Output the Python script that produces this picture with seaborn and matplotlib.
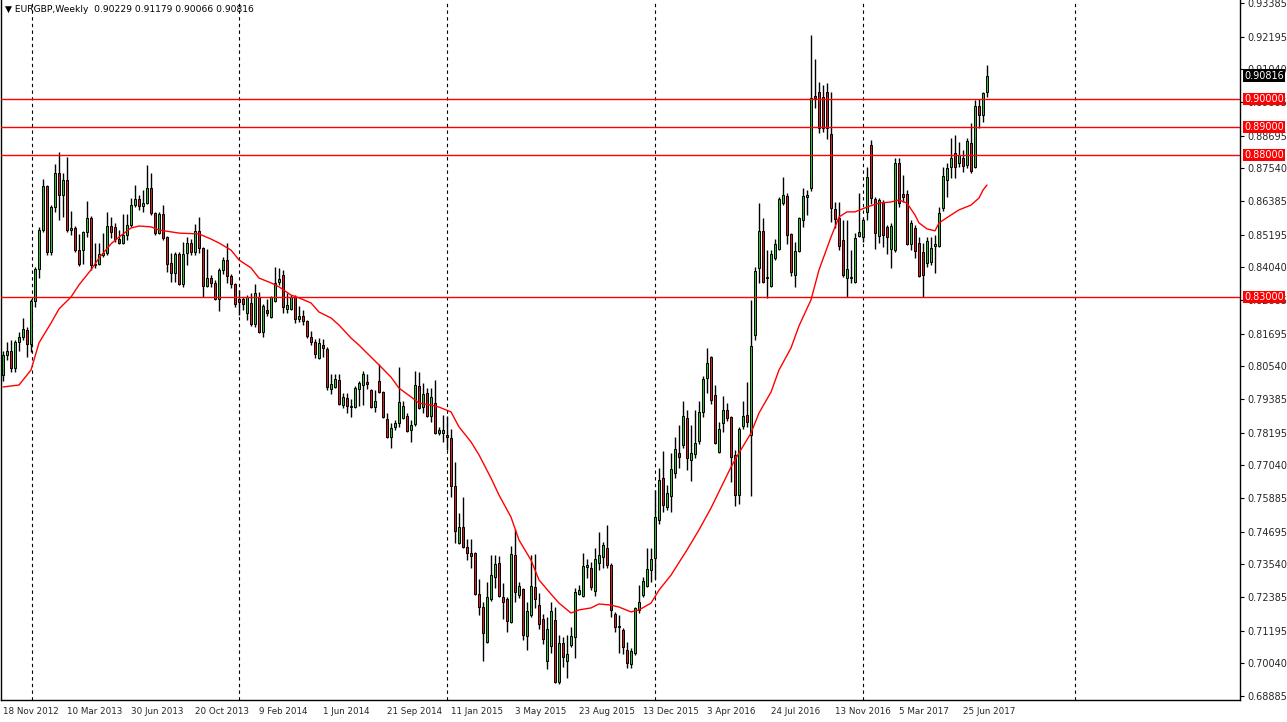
import numpy as np
import pandas as pd
import matplotlib
matplotlib.use("Agg")
import matplotlib.pyplot as plt
import seaborn as sns

# weekly EURGBP candles
opens = [
    .8023, .8094, .8108, .8048, .8140, .8158, .8183, .8133, .8285, .8398,
    .8536, .8691, .8458, .8617, .8737, .8660, .8713, .8536, .8543, .8465,
    .8465, .8529, .8578, .8412, .8416, .8448, .8455, .8550, .8547, .8504,
    .8490, .8518, .8554, .8624, .8646, .8621, .8631, .8684, .8596, .8525,
    .8593, .8511, .8420, .8384, .8451, .8345, .8455, .8490, .8458, .8532,
    .8472, .8338, .8366, .8349, .8292, .8395, .8430, .8373, .8345, .8292,
    .8292, .8243, .8278, .8204, .8299, .8175, .8253, .8228, .8285, .8352,
    .8377, .8257, .8257, .8299, .8221, .8232, .8214, .8158, .8140, .8084,
    .8129, .8115, .7974, .7981, .8006, .7917, .7942, .7914, .7910, .7974,
    .7988, .7999, .7970, .7910, .8002, .7963, .7868, .7804, .7840, .7854,
    .7871, .7878, .7829, .7850, .7985, .7910, .7960, .7878, .7924, .7818,
    .7818, .7811, .7801, .7631, .7430, .7486, .7415, .7394, .7394, .7249,
    .7203, .7080, .7232, .7309, .7359, .7239, .7232, .7150, .7387, .7246,
    .7267, .7101, .7175, .7274, .7210, .7161, .7012, .7065, .7157, .6938,
    .7076, .7012, .7069, .7097, .7249, .7242, .7345, .7341, .7260, .7359,
    .7380, .7412, .7352, .7178, .7136, .7122, .7051, .7002, .7041, .7193,
    .7246, .7278, .7334, .7377, .7511, .7659, .7557, .7596, .7677, .7748,
    .7776, .7871, .7723, .7744, .7790, .7893, .8013, .8087, .7953, .7751,
    .7854, .7900, .7875, .7741, .7599, .7843, .7882, .7811, .8165, .8402,
    .8532, .8366, .8338, .8437, .8469, .8631, .8656, .8522, .8377, .8462,
    .8571, .8653, .8684, .9010, .9024, .9006, .9024, .8875, .8610, .8578,
    .8501, .8366, .8370, .8352, .8515, .8511, .8600, .8836, .8646, .8515,
    .8635, .8547, .8469, .8465, .8773, .8663, .8663, .8486, .8543, .8490,
    .8458, .8419, .8423, .8479, .8479, .8614, .8713, .8759, .8808, .8773,
    .8790, .8766, .8843, .8759, .8974, .8942, .90229,
]
highs = [
    .8108, .8140, .8147, .8147, .8175, .8225, .8193, .8292, .8405, .8547,
    .8716, .8695, .8624, .8769, .8812, .8737, .8794, .8603, .8550, .8522,
    .8533, .8638, .8585, .8490, .8490, .8525, .8600, .8582, .8561, .8536,
    .8593, .8593, .8649, .8695, .8660, .8677, .8766, .8737, .8600, .8600,
    .8624, .8515, .8455, .8458, .8458, .8494, .8511, .8504, .8557, .8582,
    .8476, .8469, .8377, .8359, .8400, .8441, .8490, .8380, .8349, .8324,
    .8299, .8306, .8313, .8345, .8317, .8275, .8292, .8303, .8405, .8402,
    .8395, .8313, .8306, .8306, .8267, .8253, .8218, .8179, .8151, .8154,
    .8151, .8122, .8027, .8027, .8027, .7960, .7960, .7939, .7985, .8002,
    .8038, .8027, .7975, .7970, .8062, .7968, .7889, .7854, .7864, .8052,
    .7932, .7889, .7864, .8038, .8034, .7995, .7977, .7977, .8006, .7840,
    .7882, .7878, .7832, .7716, .7536, .7592, .7444, .7444, .7398, .7302,
    .7221, .7292, .7387, .7387, .7384, .7288, .7239, .7419, .7479, .7292,
    .7270, .7221, .7387, .7391, .7253, .7178, .7168, .7221, .7203, .7104,
    .7097, .7104, .7133, .7270, .7281, .7394, .7373, .7362, .7412, .7468,
    .7433, .7493, .7359, .7186, .7175, .7129, .7080, .7058, .7205, .7281,
    .7309, .7412, .7412, .7617, .7695, .7755, .7635, .7748, .7804, .7847,
    .7931, .7900, .7847, .7900, .7931, .8020, .8119, .8091, .7988, .7857,
    .7949, .7924, .7880, .7758, .7840, .7931, .7999, .8289, .8405, .8631,
    .8578, .8465, .8465, .8504, .8653, .8723, .8667, .8525, .8494, .8582,
    .8684, .8677, .9225, .9140, .9059, .9049, .9056, .9024, .8635, .8635,
    .8571, .8571, .8465, .8525, .8667, .8578, .8759, .8854, .8653, .8649,
    .8642, .8554, .8561, .8790, .8790, .8730, .8677, .8571, .8554, .8511,
    .8490, .8511, .8511, .8518, .8617, .8759, .8773, .8861, .8872, .8847,
    .8819, .8861, .8914, .8996, .8999, .9024, .91179,
]
lows = [
    .8002, .8076, .8034, .8034, .8108, .8147, .8087, .8105, .8264, .8366,
    .8529, .8448, .8448, .8600, .8571, .8581, .8529, .8518, .8458, .8409,
    .8416, .8511, .8395, .8402, .8412, .8441, .8448, .8508, .8494, .8486,
    .8486, .8501, .8547, .8617, .8607, .8600, .8628, .8589, .8520, .8522,
    .8501, .8388, .8352, .8352, .8342, .8335, .8412, .8448, .8448, .8455,
    .8299, .8335, .8335, .8289, .8250, .8380, .8349, .8331, .8264, .8235,
    .8253, .8218, .8197, .8193, .8172, .8158, .8232, .8225, .8280, .8342,
    .8243, .8243, .8253, .8207, .8211, .8200, .8154, .8130, .8084, .8080,
    .8087, .7970, .7956, .7977, .7917, .7907, .7889, .7875, .7907, .7914,
    .7917, .7974, .7905, .7893, .7960, .7870, .7800, .7765, .7829, .7840,
    .7868, .7822, .7787, .7843, .7903, .7889, .7875, .7857, .7815, .7811,
    .7787, .7758, .7592, .7430, .7426, .7412, .7369, .7341, .7246, .7175,
    .7012, .7076, .7224, .7270, .7239, .7161, .7115, .7147, .7221, .7235,
    .7087, .7051, .7168, .7200, .7125, .7072, .6984, .7041, .6935, .6931,
    .6991, .6952, .7062, .7023, .7246, .7239, .7306, .7263, .7242, .7334,
    .7341, .7341, .7168, .7115, .7041, .7037, .6988, .6988, .7034, .7182,
    .7239, .7274, .7292, .7302, .7497, .7539, .7546, .7539, .7659, .7695,
    .7765, .7688, .7649, .7730, .7779, .7875, .7960, .7921, .7780, .7748,
    .7822, .7861, .7645, .7560, .7567, .7832, .7840, .7596, .8147, .8349,
    .8349, .8296, .8335, .8430, .8465, .8624, .8486, .8373, .8335, .8458,
    .8547, .8589, .8674, .8967, .8879, .8882, .8858, .8564, .8543, .8465,
    .8370, .8299, .8349, .8349, .8511, .8494, .8571, .8628, .8469, .8490,
    .8476, .8451, .8402, .8458, .8617, .8635, .8483, .8465, .8437, .8370,
    .8299, .8405, .8412, .8384, .8476, .8603, .8653, .8720, .8720, .8759,
    .8741, .8755, .8737, .8755, .8896, .8918, .90066,
]
closes = [
    .8094, .8108, .8048, .8140, .8158, .8186, .8133, .8285, .8398, .8536,
    .8691, .8458, .8617, .8737, .8660, .8713, .8536, .8543, .8465, .8416,
    .8529, .8578, .8412, .8416, .8451, .8455, .8550, .8529, .8504, .8490,
    .8518, .8554, .8624, .8646, .8621, .8631, .8684, .8596, .8525, .8593,
    .8508, .8416, .8384, .8451, .8345, .8451, .8490, .8458, .8532, .8472,
    .8338, .8366, .8349, .8292, .8395, .8430, .8373, .8345, .8274, .8281,
    .8274, .8299, .8204, .8313, .8175, .8267, .8243, .8299, .8349, .8363,
    .8264, .8271, .8299, .8221, .8232, .8214, .8161, .8140, .8098, .8137,
    .8119, .7981, .7992, .8009, .7921, .7946, .7914, .7910, .7977, .7995,
    .8027, .7992, .7910, .7932, .7963, .7875, .7804, .7836, .7854, .7928,
    .7914, .7825, .7847, .7988, .7907, .7956, .7878, .7946, .7818, .7829,
    .7829, .7804, .7631, .7472, .7486, .7415, .7394, .7383, .7249, .7203,
    .7111, .7239, .7316, .7355, .7242, .7221, .7154, .7391, .7256, .7277,
    .7104, .7189, .7277, .7232, .7143, .7090, .7125, .7189, .6938, .7076,
    .7026, .7037, .7101, .7256, .7263, .7348, .7352, .7274, .7373, .7387,
    .7422, .7352, .7193, .7133, .7133, .7062, .7005, .7048, .7200, .7221,
    .7295, .7338, .7373, .7521, .7652, .7564, .7606, .7691, .7762, .7733,
    .7878, .7730, .7748, .7783, .7893, .8009, .8066, .7935, .7783, .7832,
    .7900, .7871, .7733, .7599, .7832, .7878, .7857, .8126, .8391, .8532,
    .8352, .8370, .8451, .8486, .8646, .8660, .8518, .8388, .8462, .8578,
    .8656, .8660, .9003, .9003, .8897, .8897, .8897, .8614, .8575, .8479,
    .8377, .8398, .8366, .8508, .8529, .8571, .8723, .8649, .8525, .8642,
    .8518, .8511, .8550, .8773, .8631, .8653, .8486, .8561, .8462, .8373,
    .8377, .8497, .8472, .8486, .8596, .8727, .8755, .8790, .8759, .8801,
    .8762, .8851, .8744, .8974, .8942, .9020, .90816,
]

# moving average (red line), sampled at these bar numbers
ma_idx = [0, 4, 7, 9, 12, 14, 17, 19, 22, 24, 27, 29, 32, 34, 37, 39, 44, 49, 52, 54,
          57, 59, 62, 64, 67, 69, 72, 74, 77, 79, 82, 84, 87, 89, 92, 94, 97, 99, 102, 104,
          107, 109, 112, 114, 117, 119, 122, 124, 127, 129, 132, 134, 137, 139, 142, 144, 147, 149, 152, 154,
          157, 159, 162, 164, 167, 171, 174, 177, 182, 184, 187, 189, 192, 194, 197, 199, 202, 204, 207, 209,
          211, 213, 216, 219, 222, 224, 226, 228, 229, 231, 233, 234, 237, 239, 242, 244, 245, 246]
ma_val = [.7981, .7988, .8041, .8137, .8207, .8257, .8299, .8342, .8395, .8437,
          .8487, .8511, .8543, .8550, .8547, .8536, .8525, .8522, .8504, .8490,
          .8465, .8430, .8402, .8366, .8349, .8335, .8306, .8296, .8278, .8246,
          .8225, .8200, .8154, .8129, .8087, .8059, .8016, .7977, .7946, .7924,
          .7917, .7910, .7893, .7840, .7787, .7741, .7659, .7599, .7521, .7440,
          .7369, .7299, .7249, .7217, .7182, .7193, .7200, .7214, .7210, .7203,
          .7186, .7193, .7217, .7263, .7316, .7405, .7476, .7553, .7698, .7748,
          .7818, .7889, .7963, .8041, .8119, .8197, .8289, .8395, .8511, .8582,
          .8600, .8600, .8617, .8631, .8635, .8642, .8631, .8589, .8561, .8540,
          .8533, .8561, .8589, .8607, .8624, .8649, .8677, .8695]

levels = [0.90, 0.89, 0.88, 0.83]
level_labels = ["0.90000", "0.89000", "0.88000", "0.83000"]

price_ticks = [0.93385, 0.92195, 0.91040, 0.89885, 0.88695, 0.87540, 0.86385, 0.85195,
               0.84040, 0.82885, 0.81695, 0.80540, 0.79385, 0.78195, 0.77040, 0.75885,
               0.74695, 0.73540, 0.72385, 0.71195, 0.70040, 0.68885]

date_labels = ["18 Nov 2012", "10 Mar 2013", "30 Jun 2013", "20 Oct 2013", "9 Feb 2014",
               "1 Jun 2014", "21 Sep 2014", "11 Jan 2015", "3 May 2015", "23 Aug 2015",
               "13 Dec 2015", "3 Apr 2016", "24 Jul 2016", "13 Nov 2016", "5 Mar 2017",
               "25 Jun 2017"]
year_breaks = [7.25, 59, 111, 163, 215, 268]

last_price = closes[-1]
header = "\u25bc EURGBP,Weekly  %.5f %.5f %.5f %.5f" % (opens[-1], highs[-1], lows[-1], closes[-1])

sns.set_style("white")
plt.rcParams["font.family"] = ["DejaVu Sans"]

W, H = 1287, 722
fig = plt.figure(figsize=(W / 100, H / 100), dpi=100)
fig.patch.set_facecolor("white")
ax = fig.add_axes([1 / W, 22 / H, 1239 / W, 700 / H])

df = pd.DataFrame({"open": opens, "high": highs, "low": lows, "close": closes})
df["bar"] = np.arange(len(df))
up = df["close"] >= df["open"]
body = df["close"] - df["open"]
body = np.where(np.abs(body) < 0.00012, np.where(up, 0.00012, -0.00012), body)

for xb in year_breaks:
    ax.axvline(xb, color="black", lw=0.8, ls=(0, (3, 3)), zorder=1)

ax.vlines(df["bar"], df["low"], df["high"], color="black", lw=1, zorder=3)
ax.bar(df["bar"], body, bottom=df["open"], width=0.7,
       color=np.where(up, "#2ec02e", "#d42020"), edgecolor="black",
       linewidth=0.7, zorder=4)

sns.lineplot(x=ma_idx, y=ma_val, color="red", lw=1, ax=ax, zorder=5)

for lv in levels:
    ax.axhline(lv, color="red", lw=1, zorder=6)

ax.set_xlim(-0.5, 309.25)
ax.set_ylim(0.68745, 0.9349)

ax.yaxis.tick_right()
ax.set_yticks(price_ticks)
ax.set_yticklabels(["%.5f" % p for p in price_ticks], fontsize=7)
ax.set_xticks(np.arange(len(date_labels)) * 16)
ax.set_xticklabels(date_labels, fontsize=6.3, ha="left")
ax.tick_params(axis="both", length=3, width=0.8, color="black", pad=2)
ax.set_xlabel("")
ax.set_ylabel("")

for side in ["left", "bottom", "right"]:
    ax.spines[side].set_color("black")
    ax.spines[side].set_linewidth(1)
ax.spines["top"].set_visible(False)

trans = ax.get_yaxis_transform()
for lv, lab in zip(levels, level_labels):
    ax.text(1.0 + 4 / 1239, lv, lab, transform=trans, fontsize=7, color="white",
            va="center", ha="left", clip_on=False, zorder=10,
            bbox=dict(boxstyle="square,pad=0.12", fc="red", ec="none"))
ax.text(1.0 + 4 / 1239, last_price, "%.5f" % last_price, transform=trans, fontsize=7,
        color="white", va="center", ha="left", clip_on=False, zorder=10,
        bbox=dict(boxstyle="square,pad=0.12", fc="black", ec="none"))

fig.text(5 / W, 1 - 10 / H, header, fontsize=6.6, va="center", ha="left", color="black")

fig.savefig("out.png", dpi=100)
